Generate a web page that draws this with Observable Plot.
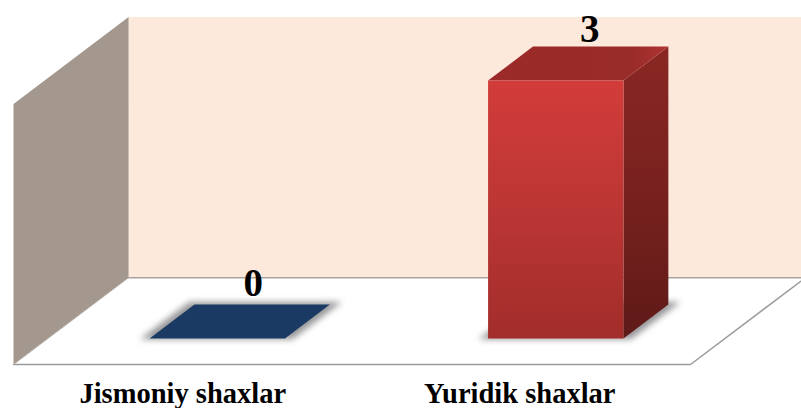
<!DOCTYPE html>
<html><head><meta charset="utf-8">
<script src="https://cdn.jsdelivr.net/npm/d3@7"></script>
<script src="https://cdn.jsdelivr.net/npm/@observablehq/plot@0.6"></script>
<style>html,body{margin:0;padding:0;background:#fff}svg{display:block}</style>
</head><body><div id="c"></div>
<script>
const categories = ["Jismoniy shaxlar", "Yuridik shaxlar"];
const values = [0, 3];
const valueMax = 3.03;
const barFills = ["#1b3a63", "red"];

// oblique projection: position across categories, value, depth 0..1
const skewX = 0.34, skewY = 1.01;
const P = (x, v, z) => ({x: x + z * skewX, y: v + z * skewY});
const barW = 0.4, z0 = 0.3, z1 = 0.69;
const poly = (pts, fill, o = {}) => Plot.line(pts.map(p => P(...p)), {x: "x", y: "y", fill, stroke: "none", curve: "linear", ...o});
const n = categories.length;

const marks = [
  poly([[0,0,1],[n,0,1],[n,valueMax,1],[0,valueMax,1]], "#fde9dc"),
  poly([[0,0,0],[0,0,1],[0,valueMax,1],[0,valueMax,0]], "#a4988e"),
  poly([[0,0,0],[n,0,0],[n,0,1],[0,0,1]], "#ffffff"),
  Plot.line([[0,0,1],[n,0,1]].map(p => P(...p)), {x:"x",y:"y",stroke:"#a8a39e",strokeWidth:1.5}),
  Plot.line([[0,0,0],[n,0,0],[n,0,1]].map(p => P(...p)), {x:"x",y:"y",stroke:"#9a9a9a",strokeWidth:1.5}),
  Plot.line([[0,0,0],[0,0,1]].map(p => P(...p)), {x:"x",y:"y",stroke:"#b5aea8",strokeWidth:1})
];

const font = {fontFamily: "'Liberation Serif', serif", fontWeight: "bold", fill: "#000"};
const labels = [];
const valueDx = [13, 11], valueDy = [-38, -34], catDx = [0, -1.5];

values.forEach((v, i) => {
  const a = i + 0.5 - barW / 2, b = i + 0.5 + barW / 2, pad = 0.025;
  marks.push(poly([[a-pad,0,z0-0.01],[b+pad,0,z0-0.01],[b+pad,0,z1+0.03],[a-pad,0,z1+0.03]], "#55555a", {imageFilter: "blur(3px)", fillOpacity: 0.62}));
  if (v === 0) {
    marks.push(poly([[a,0,z0],[b,0,z0],[b,0,z1],[a,0,z1]], barFills[i]));
  } else {
    marks.push(
      poly([[b,0,z0],[b,0,z1],[b,v,z1],[b,v,z0]], "url(#sideGrad)"),
      poly([[a,v,z0],[b,v,z0],[b,v,z1],[a,v,z1]], "url(#topGrad)"),
      poly([[a,0,z0],[b,0,z0],[b,v,z0],[a,v,z0]], "url(#frontGrad)")
    );
  }
  labels.push(
    Plot.text([{...P(i + 0.5, v, 0.5), t: String(v)}], {x: "x", y: "y", text: "t", dx: valueDx[i], dy: valueDy[i], fontSize: 39, ...font}),
    Plot.text([{x: i + 0.5, y: 0, t: categories[i]}], {x: "x", y: "y", text: "t", dx: catDx[i], dy: 29, fontSize: 28.5, ...font})
  );
});
marks.push(...labels);

const svg = Plot.plot({
  width: 801, height: 408, margin: 0,
  style: {background: "#fff", overflow: "hidden"},
  x: {type: "linear", domain: [0, n], range: [13, 690], axis: null},
  y: {type: "linear", domain: [0, 3], range: [364, 106], axis: null},
  marks
});

const defs = d3.select(svg).append("defs");
const grad = (id, stops, horiz) => {
  const g = defs.append("linearGradient").attr("id", id).attr("x1", 0).attr("y1", 0).attr("x2", horiz ? 1 : 0).attr("y2", horiz ? 0 : 1);
  stops.forEach(([o, c]) => g.append("stop").attr("offset", o).attr("stop-color", c));
};
grad("frontGrad", [[0, "#d23c3a"], [0.5, "#bb3634"], [1, "#a22d2a"]]);
grad("sideGrad", [[0, "#8a2723"], [0.5, "#78211e"], [1, "#5e1a18"]]);
grad("topGrad", [[0, "#9b2a28"], [0.8, "#992b29"], [1, "#b03431"]], true);
document.getElementById("c").append(svg);
</script></body></html>
